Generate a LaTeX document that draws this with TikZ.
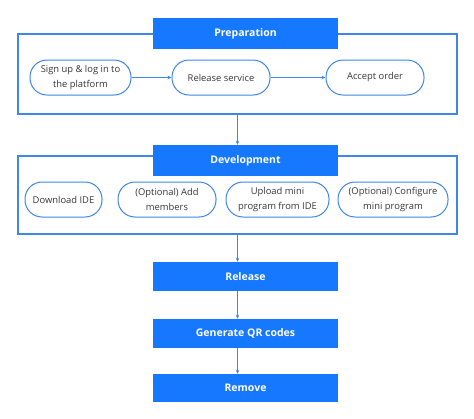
\documentclass[tikz,border=0pt]{standalone}
\usepackage{fontspec}
\setmainfont{Open Sans}
\usepackage{xcolor}
\usetikzlibrary{arrows.meta}
\definecolor{headblue}{RGB}{22,119,255}
\definecolor{lineblue}{RGB}{62,134,232}
\definecolor{textgray}{RGB}{55,55,55}

\begin{document}
\begin{tikzpicture}[x=1pt,y=-1pt,
		framebox/.style={rectangle,draw=lineblue,line width=1.1pt,fill=white},
		headbox/.style={rectangle,fill=headblue,text=white,minimum width=185pt,
			font=\fontsize{10.5}{12}\selectfont\bfseries},
		pillbox/.style={rectangle,rounded corners=17pt,draw=lineblue,line width=1pt,
			minimum height=35pt,align=center,text=textgray,inner sep=2pt,
			font=\fontsize{9.4}{14.5}\selectfont},
		flow/.style={draw=lineblue,line width=0.9pt,-{Stealth[length=4pt,width=3.5pt]}}]
	\useasboundingbox (0,0) rectangle (474,418);
	% preparation
	\node[framebox,minimum width=439pt,minimum height=80pt] (prepbox) at (237.5,74) {};
	\node[headbox,minimum height=31pt] (prephead) at (245.5,33.5) {Preparation};
	\node[pillbox,minimum width=101pt] (signup) at (80.5,77.5) {Sign up \& log in to\\the platform};
	\node[pillbox,minimum width=98pt] (relserv) at (221,77.5) {Release service};
	\node[pillbox,minimum width=98pt] (accept) at (375,77.5) {Accept order};
	\draw[flow] (signup) -- (relserv);
	\draw[flow] (relserv) -- (accept);
	% development
	\node[framebox,minimum width=439pt,minimum height=78pt] (devbox) at (237.5,195) {};
	\node[headbox,minimum height=31pt] (devhead) at (245.5,160.5) {Development};
	\node[pillbox,minimum width=77pt] (download) at (63.5,199.5) {Download IDE};
	\node[pillbox,minimum width=98pt] (addmem) at (167,199.5) {(Optional) Add\\members};
	\node[pillbox,minimum width=103pt] (upload) at (277.5,199.5) {Upload mini\\program from IDE};
	\node[pillbox,minimum width=110pt] (config) at (393,199.5) {(Optional) Configure\\mini program};
	% release steps
	\node[headbox,minimum height=29pt] (release) at (245.5,276.5) {Release};
	\node[headbox,minimum height=29pt] (qrcode) at (245.5,333.5) {Generate QR codes};
	\node[headbox,minimum height=28pt] (remove) at (245.5,388) {Remove};
	\draw[flow] (prepbox.south) -- (prepbox.south |- devhead.north);
	\draw[flow] (devbox.south) -- (devbox.south |- release.north);
	\draw[flow] (release.south -| devbox.south) -- (qrcode.north -| devbox.south);
	\draw[flow] (qrcode.south -| devbox.south) -- (remove.north -| devbox.south);
\end{tikzpicture}
\end{document}
